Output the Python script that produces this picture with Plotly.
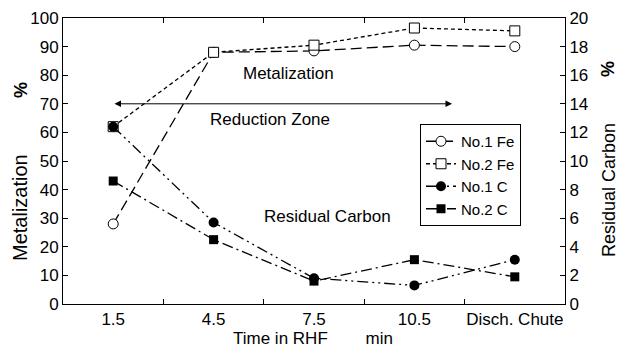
import plotly.graph_objects as go

categories = ["1.5", "4.5", "7.5", "10.5", "Disch. Chute"]
no1_fe = [28, 88, 88.5, 90.5, 90]
no2_fe = [62, 88, 90.5, 96.5, 95.5]
no1_c = [12.4, 5.7, 1.8, 1.3, 3.1]
no2_c = [8.6, 4.5, 1.6, 3.1, 1.9]
left_ticks = list(range(0, 101, 10))
right_ticks = list(range(0, 21, 2))

FONT = "Liberation Sans, Arial, sans-serif"
W, H = 619, 347
# plot area in page pixels
px0, px1, py0, py1 = 63, 565, 18, 304

def paper_x(xp):
    return (xp - px0) / (px1 - px0)

def paper_y(yp):
    return (py1 - yp) / (py1 - py0)

fig = go.Figure()

fig.add_trace(go.Scatter(x=categories, y=no1_fe, name="No.1 Fe", mode="lines+markers",
                         line=dict(color="black", width=1.3, dash="11px,5px"),
                         marker=dict(symbol="circle", size=10, color="white", line=dict(color="black", width=1))))
fig.add_trace(go.Scatter(x=categories, y=no2_fe, name="No.2 Fe", mode="lines+markers",
                         line=dict(color="black", width=1.3, dash="4px,3px"),
                         marker=dict(symbol="square", size=10, color="white", line=dict(color="black", width=1))))
fig.add_trace(go.Scatter(x=categories, y=no1_c, name="No.1 C", mode="lines+markers", yaxis="y2",
                         line=dict(color="black", width=1.3, dash="11px,4px,2px,4px,2px,4px"),
                         marker=dict(symbol="circle", size=10, color="black")))
fig.add_trace(go.Scatter(x=categories, y=no2_c, name="No.2 C", mode="lines+markers", yaxis="y2",
                         line=dict(color="black", width=1.3, dash="11px,4px,2px,4px"),
                         marker=dict(symbol="square", size=9, color="black")))

axis_common = dict(showline=True, linecolor="black", linewidth=1, ticks="inside", ticklen=5,
                   tickcolor="black", showgrid=False, zeroline=False, automargin=False,
                   tickfont=dict(family=FONT, size=17, color="black"))

fig.update_layout(
    width=W, height=H,
    margin=dict(l=px0, r=W - px1, t=py0, b=H - py1, autoexpand=False),
    paper_bgcolor="white", plot_bgcolor="white",
    font=dict(family=FONT, size=17, color="black"),
    xaxis=dict(type="category", tickson="boundaries", mirror="ticks", range=[-0.5, 4.5],
               tickangle=0, **axis_common),
    yaxis=dict(range=[0, 100], tickvals=left_ticks, **axis_common),
    yaxis2=dict(range=[0, 20], tickvals=right_ticks, overlaying="y", side="right", **axis_common),
    showlegend=True,
    legend=dict(x=paper_x(420), y=paper_y(124), xanchor="left", yanchor="top", bgcolor="white",
                bordercolor="black", borderwidth=1, font=dict(family=FONT, size=15, color="black"),
                tracegroupgap=0, itemwidth=30),
)

annots = [
    dict(text="Metalization", x=288, y=73),
    dict(text="Reduction Zone", x=270, y=119),
    dict(text="Residual Carbon", x=327, y=216),
    dict(text="Time in RHF        min", x=313, y=338),
]
for a in annots:
    fig.add_annotation(text=a["text"], xref="paper", yref="paper",
                       x=paper_x(a["x"]), y=paper_y(a["y"]), xanchor="center", yanchor="middle",
                       showarrow=False, font=dict(family=FONT, size=17, color="black"))

for txt, xx, yy, bold, fs in [("Metalization", 20, 208, False, 20), ("%", 21, 90, True, 18),
                              ("Residual Carbon", 609, 190, False, 18), ("%", 608, 69, True, 18)]:
    fig.add_annotation(text=("<b>%s</b>" % txt) if bold else txt, xref="paper", yref="paper",
                       x=paper_x(xx), y=paper_y(yy), textangle=-90, xanchor="center", yanchor="middle",
                       showarrow=False, font=dict(family=FONT, size=fs, color="black"))

# double-headed arrow for reduction zone
fig.add_annotation(text="", xref="paper", yref="y", x=paper_x(452), y=70,
                   ax=-(452 - 113), ay=0, showarrow=True, arrowhead=2, arrowside="end+start",
                   arrowwidth=1, arrowsize=1.3, arrowcolor="black")

fig.write_html("out.html", config={"displayModeBar": False},
               post_script="document.body.style.margin='0';document.body.style.overflow='hidden';")
